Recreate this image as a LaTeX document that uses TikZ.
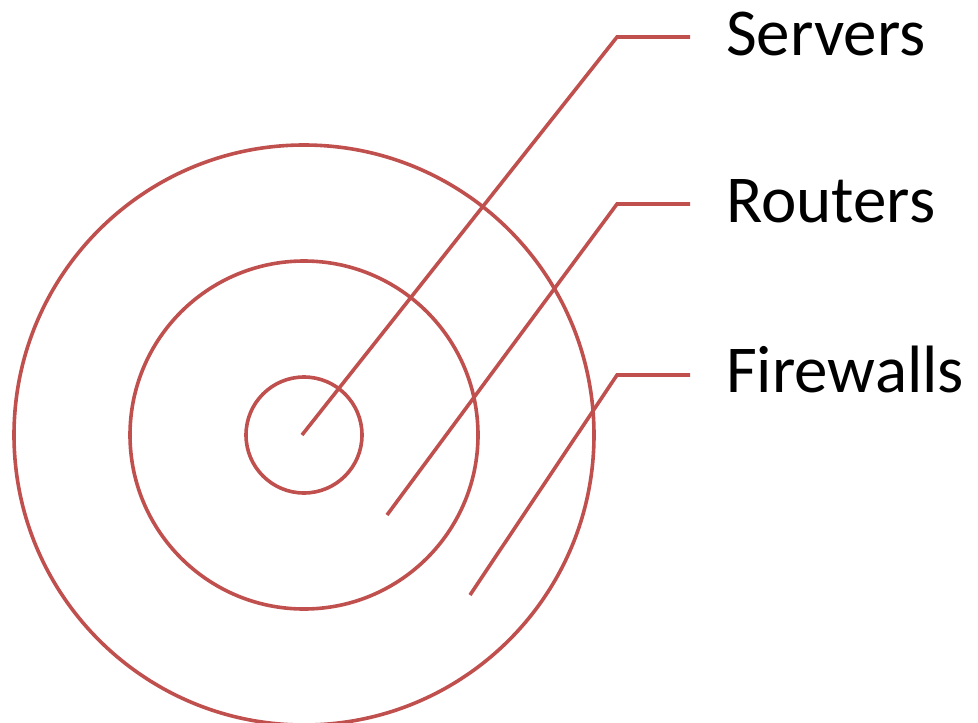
\documentclass[tikz,border=0pt]{standalone}
\usepackage{fontspec}
\setmainfont{Carlito}
\definecolor{ringred}{HTML}{C0504D}
\begin{document}
\begin{tikzpicture}[x=1pt,y=-1pt,
  ring/.style={draw=ringred,line width=3.6pt},
  leader/.style={draw=ringred,line width=3.6pt},
  tag/.style={anchor=base west,inner sep=0pt,font=\fontsize{67}{72}\selectfont}]
\useasboundingbox (0,0) rectangle (978,723);
% concentric rings
\coordinate (c) at (304,435);
\draw[ring] (c) circle[radius=58];
\draw[ring] (c) circle[radius=174];
\draw[ring] (c) circle[radius=290];
% leader start points inside each ring
\coordinate (sIn) at (302,435);
\coordinate (rIn) at (387,515);
\coordinate (fIn) at (470,595);
% elbows and ends
\coordinate (sK) at (617,37);
\coordinate (sE) at (690,37);
\coordinate (rK) at (617,204);
\coordinate (rE) at (690,204);
\coordinate (fK) at (617,375);
\coordinate (fE) at (690,375);
\node[tag] (srv) at (726,55) {Servers};
\node[tag] (rtr) at (726,222) {Routers};
\node[tag] (fw) at (726,392) {Firewalls};
\draw[leader] (sIn) -- (sK) -- (sE);
\draw[leader] (rIn) -- (rK) -- (rE);
\draw[leader] (fIn) -- (fK) -- (fE);
\end{tikzpicture}
\end{document}
